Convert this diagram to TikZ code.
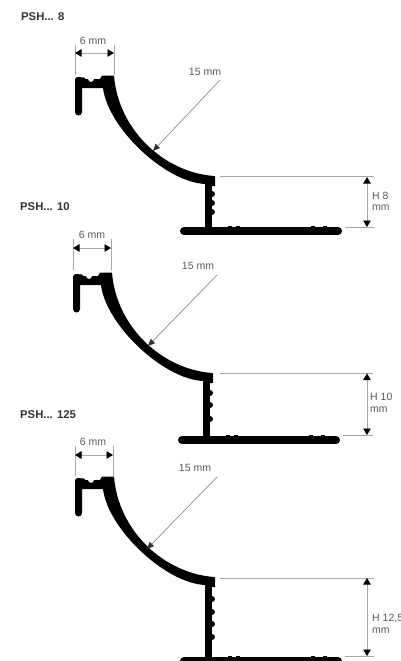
\documentclass[tikz,border=0pt]{standalone}
\usepackage{fontspec}
\setmainfont{Liberation Sans}
\usetikzlibrary{arrows.meta}
\tikzset{
  x=1pt,y=-1pt,
  profilefill/.style={fill=black,draw=none},
  dimline/.style={draw=black!35,line width=0.9pt},
  dimarrow/.style={draw=black!35,line width=0.9pt,{Triangle[color=black,length=6.5pt,width=7.5pt]}-{Triangle[color=black,length=6.5pt,width=7.5pt]}},
  leader/.style={draw=black!45,line width=0.7pt,-{Triangle[color=black!80,length=7pt,width=6pt]}},
  dimtext/.style={font=\fontsize{10.5}{12}\selectfont,text=black!65,inner sep=0pt},
  title/.style={font=\fontsize{11.3}{12}\selectfont\bfseries,text=black!80,inner sep=0pt,anchor=west},
}
% #1 shift x, #2 shift y, #3 base centre y in local coordinates, #4 tooth list
\newcommand{\profileshape}[4]{%
\begin{scope}[shift={(#1,#2)}]
  \fill[profilefill] (102,75.5) -- (114,75.5)
    .. controls (118,128) and (162,172) .. (214,176)
    -- (215,176.5) -- (215,186) -- (212,186) -- (205,184)
    .. controls (165,182) and (108,128) .. (103,88)
    -- (82,88) -- (82,112) arc[start angle=0,end angle=180,radius=3.5]
    -- (75,79) -- (77,77) -- (84,77.5) -- (85.5,79) -- (88,79)
    arc[start angle=180,end angle=0,radius=3] -- (100,79) -- cycle;
  \fill[profilefill] (205,183) rectangle (212,#3);
  \foreach \ty in {#4} \fill[profilefill] (212,\ty) circle[radius=3pt];
  \draw[black,line width=8pt,line cap=round] (184,#3) -- (338,#3);
  \foreach \bx in {230,238,313,325} \fill[profilefill] (\bx,#3) ++(-2,-3.6) rectangle ++(4,-1);
\end{scope}}
\begin{document}
\begin{tikzpicture}
\useasboundingbox (0,0) rectangle (400,661);
\clip (0,0) rectangle (400,661);
\fill[white] (0,0) rectangle (400,661);

% ---- PSH 8
\node[title] (t1) at (21,17) {PSH... 8};
\profileshape{0}{0}{231}{194,203,212}
\coordinate (a1) at (75,75); \coordinate (a1t) at (75,45);
\coordinate (b1) at (114,75); \coordinate (b1t) at (114,45);
\draw[dimline] (a1) -- (a1t); \draw[dimline] (b1) -- (b1t);
\coordinate (c1) at (75,53); \coordinate (d1) at (114,53);
\draw[dimarrow] (c1) -- (d1);
\node[dimtext] (w1) at (93,41) {6 mm};
\coordinate (r1a) at (220,80); \coordinate (r1b) at (153,151);
\draw[leader] (r1a) -- (r1b);
\node[dimtext] (r1) at (205,72) {15 mm};
\coordinate (h1a) at (220,176.5); \coordinate (h1b) at (374,176.5);
\coordinate (h1c) at (345,227); \coordinate (h1d) at (374,227);
\draw[dimline] (h1a) -- (h1b); \draw[dimline] (h1c) -- (h1d);
\coordinate (v1a) at (367,177); \coordinate (v1b) at (367,227);
\draw[dimarrow] (v1a) -- (v1b);
\node[dimtext,anchor=west] (l1) at (372,196) {H 8};
\node[dimtext,anchor=west] (m1) at (372,208) {mm};

% ---- PSH 10
\node[title] (t2) at (20,207) {PSH... 10};
\profileshape{-2}{197}{243}{196,208,222}
\coordinate (a2) at (73,270); \coordinate (a2t) at (73,239);
\coordinate (b2) at (111,270); \coordinate (b2t) at (111,239);
\draw[dimline] (a2) -- (a2t); \draw[dimline] (b2) -- (b2t);
\coordinate (c2) at (73,248); \coordinate (d2) at (111,248);
\draw[dimarrow] (c2) -- (d2);
\node[dimtext] (w2) at (92,235) {6 mm};
\coordinate (r2a) at (217,275); \coordinate (r2b) at (148,346);
\draw[leader] (r2a) -- (r2b);
\node[dimtext] (r2) at (198,266) {15 mm};
\coordinate (h2a) at (220,373); \coordinate (h2b) at (373,373);
\coordinate (h2c) at (343,435); \coordinate (h2d) at (373,435);
\draw[dimline] (h2a) -- (h2b); \draw[dimline] (h2c) -- (h2d);
\coordinate (v2a) at (367,373.5); \coordinate (v2b) at (367,435);
\draw[dimarrow] (v2a) -- (v2b);
\node[dimtext,anchor=west] (l2) at (370,397) {H 10};
\node[dimtext,anchor=west] (m2) at (370,410) {mm};

% ---- PSH 125
\node[title] (t3) at (20,415) {PSH... 125};
\profileshape{0}{401}{260}{198,211,223,236}
\coordinate (a3) at (75,476); \coordinate (a3t) at (75,446);
\coordinate (b3) at (113,476); \coordinate (b3t) at (113,446);
\draw[dimline] (a3) -- (a3t); \draw[dimline] (b3) -- (b3t);
\coordinate (c3) at (75,455); \coordinate (d3) at (113,455);
\draw[dimarrow] (c3) -- (d3);
\node[dimtext] (w3) at (93,442) {6 mm};
\coordinate (r3a) at (217,477); \coordinate (r3b) at (147,549);
\draw[leader] (r3a) -- (r3b);
\node[dimtext] (r3) at (195,468) {15 mm};
\coordinate (h3a) at (220,578); \coordinate (h3b) at (374,578);
\coordinate (h3c) at (345,656); \coordinate (h3d) at (374,656);
\draw[dimline] (h3a) -- (h3b); \draw[dimline] (h3c) -- (h3d);
\coordinate (v3a) at (367,578); \coordinate (v3b) at (367,656);
\draw[dimarrow] (v3a) -- (v3b);
\node[dimtext,anchor=west] (l3) at (372,618) {H 12,5};
\node[dimtext,anchor=west] (m3) at (372,631) {mm};
\end{tikzpicture}
\end{document}
